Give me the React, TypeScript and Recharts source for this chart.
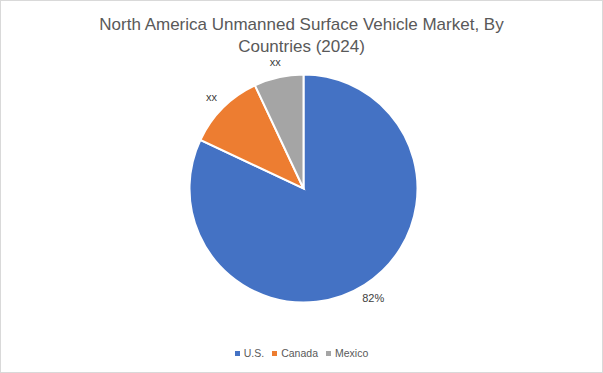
import React from "react";
import { PieChart, Pie, Cell, Legend } from "recharts";

const countries = ["U.S.", "Canada", "Mexico"];
const shares = [82, 11, 7];
const labels = ["82%", "xx", "xx"];
const colors = ["#4472C4", "#ED7D31", "#A5A5A5"];
const titleLines = [
  "North America Unmanned Surface Vehicle Market, By",
  "Countries (2024)",
];

const data = countries.map((name, i) => ({ name, value: shares[i], label: labels[i] }));

const FONT = "'Liberation Sans', Arial, sans-serif";
const RAD = Math.PI / 180;

const renderLabel = (props: any) => {
  const { cx, cy, midAngle, outerRadius, index } = props;
  const r = outerRadius + 16;
  const x = cx + r * Math.cos(-midAngle * RAD);
  const y = cy + r * Math.sin(-midAngle * RAD);
  return (
    <text
      x={x}
      y={y}
      fill="#404040"
      fontSize={11}
      fontFamily={FONT}
      textAnchor="middle"
      dominantBaseline="central"
    >
      {data[index].label}
    </text>
  );
};

const renderLegend = () => (
  <div
    style={{
      display: "flex",
      justifyContent: "center",
      alignItems: "center",
      fontFamily: FONT,
      fontSize: 10.5,
      color: "#595959",
      lineHeight: "14px",
    }}
  >
    {countries.map((name, i) => (
      <div
        key={name}
        style={{ display: "flex", alignItems: "center", marginRight: i < countries.length - 1 ? 8 : 0 }}
      >
        <span
          style={{ width: 5, height: 5, background: colors[i], display: "inline-block", marginRight: 4 }}
        />
        <span>{name}</span>
      </div>
    ))}
  </div>
);

export default function App() {
  return (
    <div
      style={{
        position: "absolute",
        left: 0,
        top: 0,
        width: 603,
        height: 373,
        boxSizing: "border-box",
        border: "1px solid #d9d9d9",
        background: "#fff",
        overflow: "hidden",
      }}
    >
      {titleLines.map((t, i) => (
        <div
          key={i}
          style={{
            position: "absolute",
            left: 0,
            width: 601,
            top: 13 + i * 22,
            textAlign: "center",
            fontFamily: FONT,
            fontSize: 17,
            color: "#595959",
            lineHeight: "22px",
            whiteSpace: "nowrap",
          }}
        >
          {t}
        </div>
      ))}
      <div style={{ position: "absolute", left: -1, top: -1 }}>
        <PieChart width={603} height={373} margin={{ top: 0, right: 0, bottom: 0, left: 0 }}>
          <Pie
            data={data}
            dataKey="value"
            nameKey="name"
            cx={303.5}
            cy={188.5}
            outerRadius={114}
            startAngle={90}
            endAngle={-270}
            stroke="#ffffff"
            strokeWidth={2}
            label={renderLabel}
            labelLine={false}
            isAnimationActive={false}
          >
            {data.map((d, i) => (
              <Cell key={d.name} fill={colors[i]} />
            ))}
          </Pie>
          <Legend
            content={renderLegend}
            wrapperStyle={{ position: "absolute", top: 346, left: 0, width: 603 }}
          />
        </PieChart>
      </div>
    </div>
  );
}
